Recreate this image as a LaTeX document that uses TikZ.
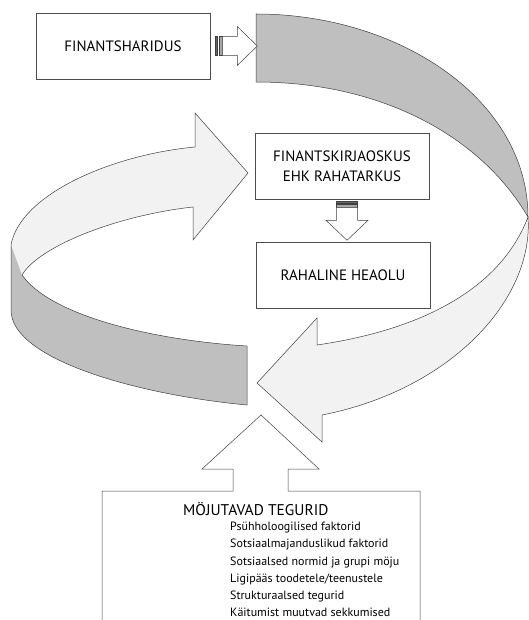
\documentclass[tikz,border=0pt]{standalone}
\usepackage{fontspec}
\setmainfont{PT Sans}

\begin{document}
\begin{tikzpicture}[x=1pt,y=-1pt,
  box/.style={draw=black!70,line width=0.6pt,minimum width=174pt,minimum height=66pt,
    align=center,inner sep=0pt,font=\fontsize{15}{20}\selectfont},
  band/.style={draw=black!75,line width=0.5pt,line join=miter},
  backside/.style={fill=black!25},
  frontside/.style={fill=black!5},
  blockarrow/.style={draw=black!75,line width=0.5pt,fill=white},
  item/.style={anchor=base west,inner sep=0pt,font=\fontsize{12}{14}\selectfont}]

\useasboundingbox (0,0) rectangle (529,620);
\clip (0,0) rectangle (529,620);

% left ribbon
\fill[frontside] (11,245) .. controls (20,195) and (110,155) .. (195,147) -- (195,113) -- (248,173)
  -- (193,240) -- (193,207) .. controls (120,215) and (40,245) .. (22,275) -- cycle;
\draw[band] (11,245) .. controls (20,195) and (110,155) .. (195,147) -- (195,113) -- (248,173)
  -- (193,240) -- (193,207) .. controls (120,215) and (40,245) .. (22,275);
\fill[backside] (11,245) -- (11,310) .. controls (11,360) and (140,395) .. (247,405) -- (247,346)
  .. controls (150,340) and (50,315) .. (22,275) -- cycle;
\draw[band] (22,275) .. controls (50,315) and (150,340) .. (247,346) -- (247,405)
  .. controls (140,395) and (11,360) .. (11,310) -- (11,245);

% right ribbon
\draw[band,backside] (256,14) .. controls (400,14) and (528,100) .. (528,217)
  .. controls (480,135) and (380,82) .. (256,82) -- cycle;
\draw[band,frontside] (528,217) .. controls (534,300) and (450,390) .. (322,415) -- (322,442)
  -- (257,383) -- (317,318) -- (317,345) .. controls (420,330) and (500,290) .. (528,217) -- cycle;

\node[box] (edu) at (123,46) {FINANTSHARIDUS};
\node[box] (skill) at (342,166) {FINANTSKIRJAOSKUS\\EHK RAHATARKUS};
\node[box] (wealth) at (343,275) {RAHALINE HEAOLU};

% striped arrows
\begin{scope}[shift={(edu.east)}]
  \filldraw[draw=black!75,fill=black!60,line width=0.4pt] (5,-9.5) rectangle (7,9.5);
  \filldraw[draw=black!75,fill=black!35,line width=0.4pt] (9,-9.5) rectangle (12,9.5);
  \draw[blockarrow] (12,-9.5) -- (27,-9.5) -- (27,-19.5) -- (47,0) -- (27,19.5) -- (27,9.5)
    -- (12,9.5) -- cycle;
\end{scope}
\begin{scope}[shift={(skill.south)}]
  \filldraw[draw=black!75,fill=black!60,line width=0.4pt] (-5.5,2) rectangle (15.5,4);
  \filldraw[draw=black!75,fill=black!35,line width=0.4pt] (-5.5,5) rectangle (15.5,8);
  \draw[blockarrow] (-5.5,8) -- (15.5,8) -- (15.5,21) -- (26,21) -- (5,41) -- (-16,21)
    -- (-5.5,21) -- cycle;
\end{scope}

% factors
\draw[blockarrow] (102,625) -- (102,491) -- (233,491) -- (233,469) -- (202,469) -- (261,415)
  -- (319,469) -- (288,469) -- (288,491) -- (420,491) -- (420,625);
\node[anchor=base west,inner sep=0pt,font=\fontsize{15.5}{18}\selectfont] (head) at (183,515)
  {MÖJUTAVAD TEGURID};
\node[item] (f1) at (230,530) {Psühholoogilised faktorid};
\node[item] (f2) at (230,547.5) {Sotsiaalmajanduslikud faktorid};
\node[item] (f3) at (230,565) {Sotsiaalsed normid ja grupi möju};
\node[item] (f4) at (230,582) {Ligipääs toodetele/teenustele};
\node[item] (f5) at (230,599) {Strukturaalsed tegurid};
\node[item] (f6) at (230,616) {Käitumist muutvad sekkumised};

\end{tikzpicture}
\end{document}
